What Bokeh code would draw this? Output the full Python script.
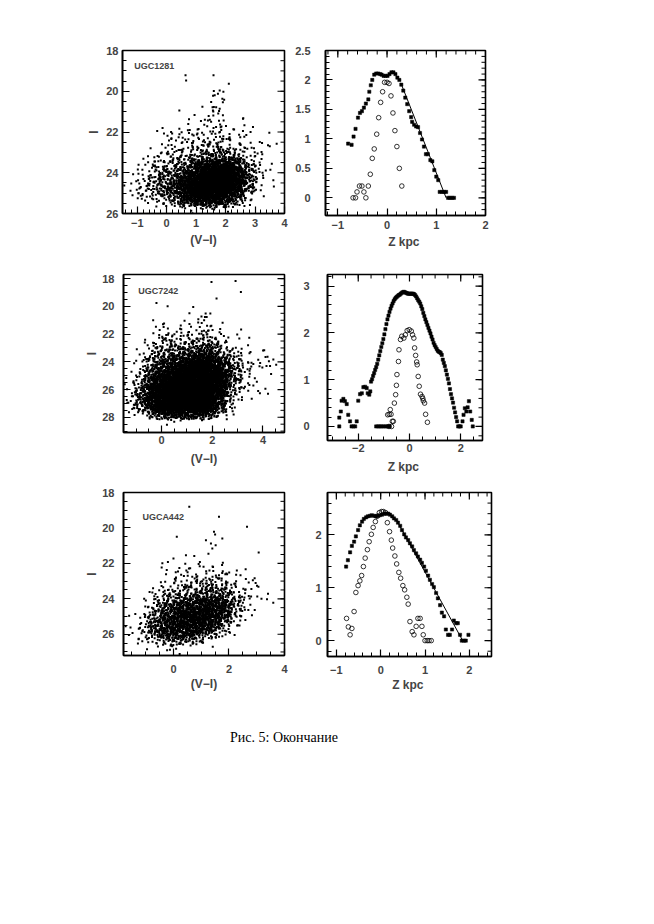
import numpy as np
from bokeh.plotting import figure
from bokeh.models import Range1d, FixedTicker, Label, Div, CustomJSTickFormatter
from bokeh.layouts import column, row
from bokeh.embed import file_html
from bokeh.resources import INLINE

# ------------------------------------------------------------------ data
# CMD star counts per 0.5 mag (colour) x 0.5 mag (I) cell
cmd1_name = "UGC1281"
cmd1_color_bins = [-1.5, -1.0, -0.5, 0.0, 0.5, 1.0, 1.5, 2.0, 2.5, 3.0, 3.5]
cmd1_mag_bins = [20.0, 20.5, 21.0, 21.5, 22.0, 22.5, 23.0, 23.5, 24.0, 24.5, 25.0, 25.5]
cmd1_counts = [
    [0, 0, 0, 0, 0, 0, 3, 0, 0, 0, 0],
    [0, 0, 0, 0, 0, 1, 5, 0, 0, 0, 0],
    [0, 0, 0, 0, 0, 2, 7, 1, 0, 0, 0],
    [0, 0, 0, 1, 3, 5, 9, 3, 1, 0, 0],
    [0, 0, 2, 6, 8, 10, 14, 8, 3, 1, 0],
    [0, 0, 4, 10, 12, 16, 22, 12, 5, 2, 1],
    [0, 1, 10, 18, 22, 40, 60, 40, 12, 3, 0],
    [0, 4, 20, 35, 60, 170, 230, 170, 35, 4, 0],
    [1, 10, 35, 60, 150, 340, 380, 270, 60, 5, 0],
    [2, 14, 40, 75, 210, 400, 400, 220, 35, 3, 0],
    [2, 6, 18, 40, 130, 220, 190, 80, 8, 0, 0],
    [0, 0, 0, 1, 3, 5, 3, 1, 0, 0, 0],
]
cmd1_bright_c = [0.64, 0.66, 1.59, 2.11, 0.43, 1.74, 1.80, 1.63, 1.89, 1.51, 1.68, 1.57, 1.80,
                 1.40, 2.59, 2.93, 2.59, 3.16, 3.44, 3.50, 3.22, 2.88, -0.14, 0.15, 0.43, 0.72,
                 -0.93, -0.88, -1.16]
cmd1_bright_i = [19.22, 19.47, 19.22, 19.63, 20.94, 20.12, 19.96, 20.20, 20.37, 20.53, 20.78, 20.94,
                 20.86, 21.43, 21.35, 21.76, 21.95, 22.49, 22.65, 22.70, 22.98, 23.80, 21.80, 22.00,
                 21.84, 21.92, 24.53, 24.70, 25.10]

cmd2_name = "UGC7242"
cmd2_color_bins = [-1.5, -1.0, -0.5, 0.0, 0.5, 1.0, 1.5, 2.0, 2.5, 3.0, 3.5, 4.0, 4.5]
cmd2_mag_bins = [20.5, 21.0, 21.5, 22.0, 22.5, 23.0, 23.5, 24.0, 24.5, 25.0, 25.5, 26.0, 26.5,
                 27.0, 27.5, 28.0]
cmd2_counts = [
    [0, 0, 0, 0, 0, 1, 3, 0, 0, 0, 0, 0, 0],
    [0, 0, 0, 2, 1, 2, 4, 1, 0, 0, 0, 0, 0],
    [0, 0, 1, 5, 4, 4, 7, 3, 1, 0, 0, 0, 0],
    [0, 0, 4, 10, 8, 10, 14, 6, 2, 1, 0, 0, 0],
    [0, 0, 8, 16, 14, 18, 24, 12, 4, 1, 0, 0, 0],
    [0, 1, 14, 24, 25, 35, 45, 22, 8, 3, 1, 0, 0],
    [0, 3, 22, 35, 45, 80, 100, 55, 16, 5, 1, 1, 0],
    [0, 6, 35, 60, 90, 160, 170, 100, 30, 8, 3, 1, 1],
    [0, 10, 50, 90, 150, 210, 210, 130, 35, 7, 2, 1, 0],
    [1, 15, 70, 130, 190, 240, 230, 130, 28, 5, 1, 0, 0],
    [2, 22, 95, 170, 230, 260, 240, 110, 20, 4, 1, 1, 0],
    [4, 30, 110, 190, 250, 270, 230, 90, 14, 2, 1, 0, 0],
    [6, 35, 120, 200, 260, 270, 200, 65, 9, 1, 0, 0, 0],
    [4, 26, 95, 180, 230, 230, 160, 45, 5, 0, 0, 0, 0],
    [0, 5, 30, 75, 100, 90, 60, 15, 1, 0, 0, 0, 0],
    [0, 0, 0, 1, 1, 1, 0, 0, 0, 0, 0, 0, 0],
]
cmd2_bright_c = [1.97, 2.92, 3.13, 2.17, -0.20, 0.24, 1.25, 1.74, 1.78, 1.68, -0.33, 0.10, 4.05,
                 4.18, 4.41, 4.14, 4.28, 3.62, 3.68, 3.29, 3.42, 3.88, 4.20]
cmd2_bright_i = [18.24, 18.17, 18.96, 19.44, 19.75, 19.99, 20.04, 20.52, 20.76, 21.00, 21.00, 21.24,
                 23.16, 23.64, 23.83, 24.30, 24.30, 24.16, 25.19, 25.80, 26.08, 26.27, 26.30]

cmd3_name = "UGCA442"
cmd3_color_bins = [-2.0, -1.5, -1.0, -0.5, 0.0, 0.5, 1.0, 1.5, 2.0, 2.5, 3.0, 3.5]
cmd3_mag_bins = [22.0, 22.5, 23.0, 23.5, 24.0, 24.5, 25.0, 25.5, 26.0, 26.5]
cmd3_counts = [
    [0, 0, 0, 2, 3, 4, 5, 4, 2, 0, 0, 0],
    [0, 0, 0, 3, 6, 8, 10, 8, 4, 1, 0, 0],
    [0, 0, 2, 6, 12, 16, 22, 20, 8, 3, 1, 0],
    [0, 0, 3, 14, 25, 32, 45, 38, 15, 4, 1, 0],
    [0, 0, 8, 35, 65, 80, 105, 85, 28, 5, 1, 0],
    [0, 1, 15, 60, 100, 120, 130, 90, 20, 2, 0, 0],
    [0, 4, 28, 80, 125, 130, 115, 50, 8, 0, 0, 0],
    [0, 8, 40, 85, 120, 100, 65, 18, 1, 0, 0, 0],
    [0, 4, 15, 38, 45, 28, 10, 1, 0, 0, 0, 0],
    [0, 0, 1, 3, 3, 1, 0, 0, 0, 0, 0, 0],
]
cmd3_bright_c = [0.57, 0.12, 1.64, 1.46, 1.50, 1.17, 1.35, 1.76, 2.65, 3.07, -0.20, 0.00, 0.45,
                 0.75, 1.40, 1.52, 1.26, 2.86, 3.01, 3.17, 3.37, -0.86]
cmd3_bright_i = [18.81, 20.50, 19.37, 20.22, 20.37, 20.69, 20.88, 20.60, 19.94, 21.39, 21.92, 21.73,
                 21.54, 21.58, 21.16, 20.98, 21.45, 22.95, 23.27, 23.99, 24.03, 23.61]

# vertical profiles (filled squares, open circles, straight fit)
p1_fill_z = [-0.79, -0.72, -0.68, -0.64, -0.59, -0.55, -0.51, -0.47, -0.43, -0.38, -0.36, -0.33,
             -0.30, -0.26, -0.22, -0.18, -0.14, -0.11, -0.07, -0.03, 0.01, 0.05, 0.09, 0.13, 0.17,
             0.21, 0.25, 0.29, 0.33, 0.37, 0.41, 0.45, 0.49, 0.51, 0.55, 0.59, 0.63, 0.67, 0.71,
             0.75, 0.79, 0.83, 0.88, 0.92, 0.96, 1.00, 1.04, 1.07, 1.12, 1.16, 1.20, 1.24, 1.28,
             1.32, 1.36]
p1_fill_v = [0.92, 0.90, 1.04, 1.17, 1.36, 1.44, 1.47, 1.53, 1.60, 1.67, 1.80, 1.91, 2.00, 2.09,
             2.11, 2.11, 2.10, 2.09, 2.07, 2.07, 2.07, 2.10, 2.13, 2.13, 2.10, 2.04, 2.00, 1.92,
             1.82, 1.70, 1.59, 1.47, 1.37, 1.29, 1.24, 1.21, 1.20, 1.10, 0.99, 0.87, 0.74, 0.74,
             0.64, 0.62, 0.47, 0.36, 0.30, 0.10, 0.10, 0.10, 0.10, 0.0, 0.0, 0.0, 0.0]
p1_open_z = [-0.69, -0.64, -0.61, -0.56, -0.51, -0.47, -0.43, -0.38, -0.34, -0.30, -0.26, -0.21,
             -0.17, -0.13, -0.09, -0.05, 0.00, 0.04, 0.08, 0.12, 0.16, 0.20, 0.25, 0.30]
p1_open_v = [0.0, 0.0, 0.10, 0.20, 0.20, 0.10, 0.0, 0.20, 0.40, 0.67, 0.83, 1.08, 1.36, 1.62,
             1.80, 1.96, 1.96, 1.94, 1.73, 1.44, 1.14, 0.87, 0.50, 0.20]
p1_fit_z = [0.28, 1.20]
p1_fit_v = [1.95, 0.0]

p2_fill_z = [-2.74, -2.74, -2.68, -2.65, -2.58, -2.52, -2.45, -2.39, -2.32, -2.26, -2.19, -2.12,
             -2.06, -2.00, -1.93, -1.86, -1.80, -1.73, -1.67, -1.63, -1.57, -1.53,
             -1.50, -1.46, -1.42, -1.38, -1.34, -1.30, -1.26, -1.22, -1.18, -1.14, -1.10, -1.06,
             -1.02, -0.98, -0.94, -0.90, -0.86, -0.82, -0.78, -0.74, -0.70, -0.66, -0.62, -0.58,
             -0.54, -0.50, -0.46, -0.42, -0.38, -0.34, -0.30, -0.26, -0.22, -0.18, -0.14, -0.10,
             -0.06, -0.02, 0.02, 0.06, 0.10, 0.14, 0.18, 0.22, 0.26, 0.30, 0.34, 0.38, 0.42, 0.46,
             0.50, 0.54, 0.58, 0.62, 0.66, 0.70, 0.74, 0.78, 0.82, 0.86, 0.90, 0.94, 0.98, 1.02,
             1.06, 1.10, 1.14, 1.18, 1.22, 1.26, 1.30, 1.34, 1.38, 1.42, 1.46, 1.50, 1.54, 1.58,
             1.62, 1.66, 1.70, 1.74, 1.78, 1.82, 1.86, 1.90, 1.95, 2.00, 2.07, 2.11, 2.16, 2.22,
             2.27, 2.32, 2.37, 2.43, 2.47,
             -1.30, -1.22, -1.15, -1.08, -1.00, -0.92, -0.85, -0.78]
p2_fill_v = [0.19, 0.0, 0.32, 0.55, 0.59, 0.54, 0.48, 0.25, 0.11, 0.0, 0.0, 0.0,
             0.11, 0.55, 0.69, 0.71, 0.84, 0.85, 0.82, 0.71, 0.68, 0.75,
             0.96, 1.01, 1.08, 1.14, 1.21, 1.27, 1.34, 1.43, 1.52, 1.61, 1.70, 1.78,
             1.87, 1.97, 2.08, 2.19, 2.29, 2.37, 2.45, 2.52, 2.58, 2.63, 2.68, 2.72,
             2.75, 2.77, 2.79, 2.81, 2.82, 2.84, 2.86, 2.87, 2.88, 2.87, 2.86, 2.85,
             2.84, 2.84, 2.84, 2.84, 2.84, 2.84, 2.83, 2.81, 2.78, 2.74, 2.70, 2.67, 2.63, 2.57,
             2.51, 2.43, 2.36, 2.29, 2.23, 2.17, 2.11, 2.05, 1.99, 1.92, 1.86, 1.79, 1.74, 1.70,
             1.66, 1.62, 1.60, 1.59, 1.57, 1.53, 1.43, 1.36, 1.29, 1.20, 1.11, 1.02, 0.92, 0.80,
             0.69, 0.60, 0.51, 0.40, 0.30, 0.20, 0.11, 0.0, 0.0, 0.0, 0.11, 0.25, 0.39, 0.32,
             0.41, 0.54, 0.32, 0.14, 0.0,
             0.0, 0.0, 0.0, 0.0, 0.0, 0.0, 0.0, 0.0]
p2_open_z = [-0.85, -0.79, -0.75, -0.72, -0.67, -0.63, -0.80, -0.70, -0.59, -0.54, -0.51, -0.49,
             -0.43, -0.41, -0.35, -0.30, -0.22, -0.16, -0.09, -0.01, 0.07, 0.12, 0.17, 0.20,
             0.24, 0.28, 0.30, 0.34, 0.38, 0.43, 0.49, 0.52, 0.54, 0.59, 0.63, 0.70]
p2_open_v = [0.25, 0.26, 0.36, 0.26, 0.11, 0.11, 0.0, 0.0, 0.50, 0.68, 0.88, 1.11,
             1.39, 1.64, 1.86, 1.93, 1.89, 1.96, 2.05, 2.07, 2.04, 1.96, 1.89, 1.68,
             1.52, 1.38, 1.32, 1.07, 0.86, 0.69, 0.64, 0.60, 0.55, 0.50, 0.26, 0.09]

p3_fill_z = [-0.78, -0.74, -0.69, -0.65, -0.60, -0.56, -0.51, -0.47, -0.42, -0.38, -0.33, -0.29,
             -0.24, -0.20, -0.15, -0.11, -0.06, -0.02, 0.03, 0.08, 0.12, 0.17, 0.21, 0.26, 0.30,
             0.35, 0.39, 0.44, 0.48, 0.53, 0.57, 0.62, 0.66, 0.71, 0.75, 0.80, 0.84, 0.89, 0.93,
             0.98, 1.02, 1.07, 1.11, 1.16, 1.20, 1.25, 1.29, 1.34, 1.38, 1.43, 1.47, 1.52, 1.56,
             1.61, 1.65, 1.70, 1.74, 1.79, 1.83, 1.88, 1.92, 1.98]
p3_fill_v = [1.40, 1.52, 1.67, 1.79, 1.87, 1.97, 2.09, 2.18, 2.25, 2.30, 2.33, 2.35, 2.36, 2.37,
             2.36, 2.35, 2.36, 2.37, 2.38, 2.40, 2.40, 2.40, 2.38, 2.35, 2.31, 2.28, 2.23, 2.17,
             2.09, 2.01, 1.95, 1.90, 1.84, 1.78, 1.71, 1.65, 1.59, 1.53, 1.47, 1.40, 1.32, 1.23,
             1.15, 1.07, 1.01, 0.90, 0.80, 0.67, 0.53, 0.46, 0.21, 0.11, 0.11, 0.21, 0.38, 0.33,
             0.33, 0.11, 0.0, 0.0, 0.0, 0.11]
p3_open_z = [-0.77, -0.73, -0.69, -0.65, -0.60, -0.56, -0.51, -0.47, -0.43, -0.39, -0.35, -0.30,
             -0.26, -0.21, -0.17, -0.12, -0.08, -0.03, 0.02, 0.06, 0.11, 0.15, 0.20, 0.24, 0.27,
             0.32, 0.36, 0.41, 0.45, 0.50, 0.54, 0.59, 0.62, 0.66, 0.71, 0.75, 0.80, 0.84, 0.89,
             0.93, 0.96, 1.00, 1.05, 1.09, 1.14]
p3_open_v = [0.42, 0.26, 0.11, 0.23, 0.55, 0.91, 1.04, 1.13, 1.23, 1.40, 1.56, 1.72, 1.87, 2.01,
             2.14, 2.25, 2.35, 2.42, 2.44, 2.44, 2.42, 2.23, 2.06, 1.90, 1.75, 1.60, 1.45, 1.29,
             1.18, 1.04, 0.96, 0.82, 0.69, 0.36, 0.17, 0.11, 0.27, 0.42, 0.42, 0.27, 0.11, 0.0,
             0.0, 0.0, 0.0]
p3_fit_z = [0.35, 1.85]
p3_fit_v = [2.29, 0.0]

caption = "Рис. 5: Окончание"

# ------------------------------------------------------------------ helpers
FONT = "Liberation Sans"
NEG = CustomJSTickFormatter(code="return tick < 0 ? '\u2212' + Math.abs(tick) : tick.toString();")


def halton(i, b):
    f, r = 1.0, 0.0
    while i > 0:
        f /= b
        r += f * (i % b)
        i //= b
    return r


def cmd_points(cbins, mbins, counts, bc, bi):
    """spread each cell's count over the cell with soft (triangular) edges"""
    xs, ys = list(bc), list(bi)
    k = 1
    for m0, rowc in zip(mbins, counts):
        for c0, n in zip(cbins, rowc):
            for _ in range(n):
                xs.append(c0 + 0.25 + 0.5 * (halton(k, 2) + halton(k, 5) - 1.0))
                ys.append(m0 + 0.25 + 0.5 * (halton(k, 3) + halton(k, 7) - 1.0))
                k += 1
    return xs, ys


def style(ax, ticks, minor, standoff):
    ax.ticker = FixedTicker(ticks=ticks, minor_ticks=minor)
    ax.axis_line_width = 1.6
    ax.major_tick_in = 7
    ax.major_tick_out = 0
    ax.minor_tick_in = 4
    ax.minor_tick_out = 0
    ax.major_tick_line_width = 1.2
    ax.minor_tick_line_width = 1.0
    ax.formatter = NEG
    ax.major_label_text_font = FONT
    ax.major_label_text_font_style = "bold"
    ax.major_label_text_font_size = "11px"
    ax.major_label_standoff = standoff


def make(xr, yr, fw, fh, bl, br, bt, bb, xt, xm, yt, ym, xs, ys, xlabel=None, ylabel=None,
         xlab_so=3, ylab_so=2):
    p = figure(x_range=Range1d(*xr), y_range=Range1d(*yr), frame_width=fw, frame_height=fh,
               min_border_left=bl, min_border_right=br, min_border_top=bt, min_border_bottom=bb,
               output_backend="svg", toolbar_location=None)
    p.grid.visible = False
    p.outline_line_color = "black"
    p.outline_line_width = 1.6
    xa, ya = p.xaxis[0], p.yaxis[0]
    style(xa, xt, xm, xs)
    style(ya, yt, ym, ys)
    for ax, lab, so in ((xa, xlabel, xlab_so), (ya, ylabel, ylab_so)):
        if lab:
            ax.axis_label = lab
            ax.axis_label_text_font = FONT
            ax.axis_label_text_font_style = "bold"
            ax.axis_label_text_font_size = "12px"
            ax.axis_label_standoff = so
    # inward ticks along the top and right edges of the box
    xin = [t for t in xt if min(xr) <= t <= max(xr)]
    xmi = [t for t in xm if min(xr) <= t <= max(xr)]
    yin = [t for t in yt if min(yr) <= t <= max(yr)]
    ymi = [t for t in ym if min(yr) <= t <= max(yr)]
    ytop = yr[1]
    xright = xr[1]
    down = -np.pi / 2 if yr[1] > yr[0] else np.pi / 2
    p.ray(x=xin, y=[ytop] * len(xin), length=7, length_units="screen", angle=down,
          line_color="black", line_width=1.2)
    p.ray(x=xmi, y=[ytop] * len(xmi), length=4, length_units="screen", angle=down,
          line_color="black", line_width=1.0)
    p.ray(x=[xright] * len(yin), y=yin, length=7, length_units="screen", angle=np.pi,
          line_color="black", line_width=1.2)
    p.ray(x=[xright] * len(ymi), y=ymi, length=4, length_units="screen", angle=np.pi,
          line_color="black", line_width=1.0)
    return p


def frange(a, b, s):
    return [round(float(v), 3) for v in np.arange(a, b + s / 2, s)]


def add_cmd(p, cb, mb, cnt, bc, bi, name, nx, ny):
    x, y = cmd_points(cb, mb, cnt, bc, bi)
    p.scatter(x, y, marker="square", size=2.0, fill_color="black", line_color=None)
    p.add_layout(Label(x=nx, y=ny, text=name, text_font=FONT, text_font_style="bold",
                       text_font_size="9px", text_baseline="middle"))


def add_prof(p, fz, fv, oz, ov, lz=None, lv=None):
    if lz is not None:
        p.line(lz, lv, line_color="black", line_width=1)
    p.scatter(oz, ov, marker="circle", size=4.6, fill_color=None, line_color="black", line_width=0.8)
    p.scatter(fz, fv, marker="square", size=3.2, fill_color="black", line_color="black", line_width=0.5)


# ------------------------------------------------------------------ row 1
c1 = make((-1.5, 4.0), (26, 18), 162, 163, 122, 4, 50, 45,
          [-1, 0, 1, 2, 3, 4], frange(-1.4, 4.0, 0.2), [18, 20, 22, 24, 26], frange(18, 26, 0.5),
          5, 4, xlabel="(V\u2212I)", ylabel="I", xlab_so=3, ylab_so=2)
add_cmd(c1, cmd1_color_bins, cmd1_mag_bins, cmd1_counts, cmd1_bright_c, cmd1_bright_i, cmd1_name, -1.1, 18.78)

r1 = make((-1.25, 2.0), (-0.3, 2.5), 160, 165, 37, 153, 48, 45,
          [-1, 0, 1, 2], frange(-1.2, 2.0, 0.2), [0, 0.5, 1, 1.5, 2, 2.5], frange(-0.3, 2.5, 0.1),
          5, 15, xlabel="Z  kpc", xlab_so=3)
add_prof(r1, p1_fill_z, p1_fill_v, p1_open_z, p1_open_v, p1_fit_z, p1_fit_v)

# ------------------------------------------------------------------ row 2
c2 = make((-1.5, 4.85), (29.1, 17.7), 161, 158, 123, 4, 16, 44,
          [0, 2, 4], frange(-1.5, 4.5, 0.5), [18, 20, 22, 24, 26, 28], frange(18, 29, 0.5),
          3, 9, xlabel="(V\u2212I)", ylabel="I", xlab_so=5, ylab_so=0)
add_cmd(c2, cmd2_color_bins, cmd2_mag_bins, cmd2_counts, cmd2_bright_c, cmd2_bright_i, cmd2_name, -0.92, 18.89)

r2 = make((-3.2, 2.85), (-0.3, 3.25), 155, 166, 39, 160, 9, 43,
          [-2, 0, 2], frange(-3.0, 2.5, 0.5), [0, 1, 2, 3], frange(-0.2, 3.2, 0.2),
          3, 18, xlabel="Z  kpc", xlab_so=5)
add_prof(r2, p2_fill_z, p2_fill_v, p2_open_z, p2_open_v)

# ------------------------------------------------------------------ row 3
c3 = make((-1.8, 4.0), (27.2, 18), 161, 163, 123, 4, 16, 40,
          [0, 2, 4], frange(-1.5, 4.0, 0.5), [18, 20, 22, 24, 26], frange(18, 27, 0.5),
          9, 9, xlabel="(V\u2212I)", ylabel="I", xlab_so=1, ylab_so=0)
add_cmd(c3, cmd3_color_bins, cmd3_mag_bins, cmd3_counts, cmd3_bright_c, cmd3_bright_i, cmd3_name, -1.12, 19.37)

r3 = make((-1.2, 2.5), (-0.3, 2.8), 164, 164, 39, 151, 15, 40,
          [-1, 0, 1, 2], frange(-1.2, 2.4, 0.2), [0, 1, 2], frange(-0.2, 2.8, 0.2),
          9, 6, xlabel="Z  kpc", xlab_so=1)
add_prof(r3, p3_fill_z, p3_fill_v, p3_open_z, p3_open_v, p3_fit_z, p3_fit_v)

cap = Div(text=caption, width=300, height=22, margin=(33, 0, 0, 230),
          styles={"font-family": "'Liberation Serif', serif", "font-size": "14px",
                  "white-space": "nowrap", "color": "black"})

layout = column(row(c1, r1), row(c2, r2), row(c3, r3), cap)

open("out.html", "w").write(file_html(layout, INLINE))
